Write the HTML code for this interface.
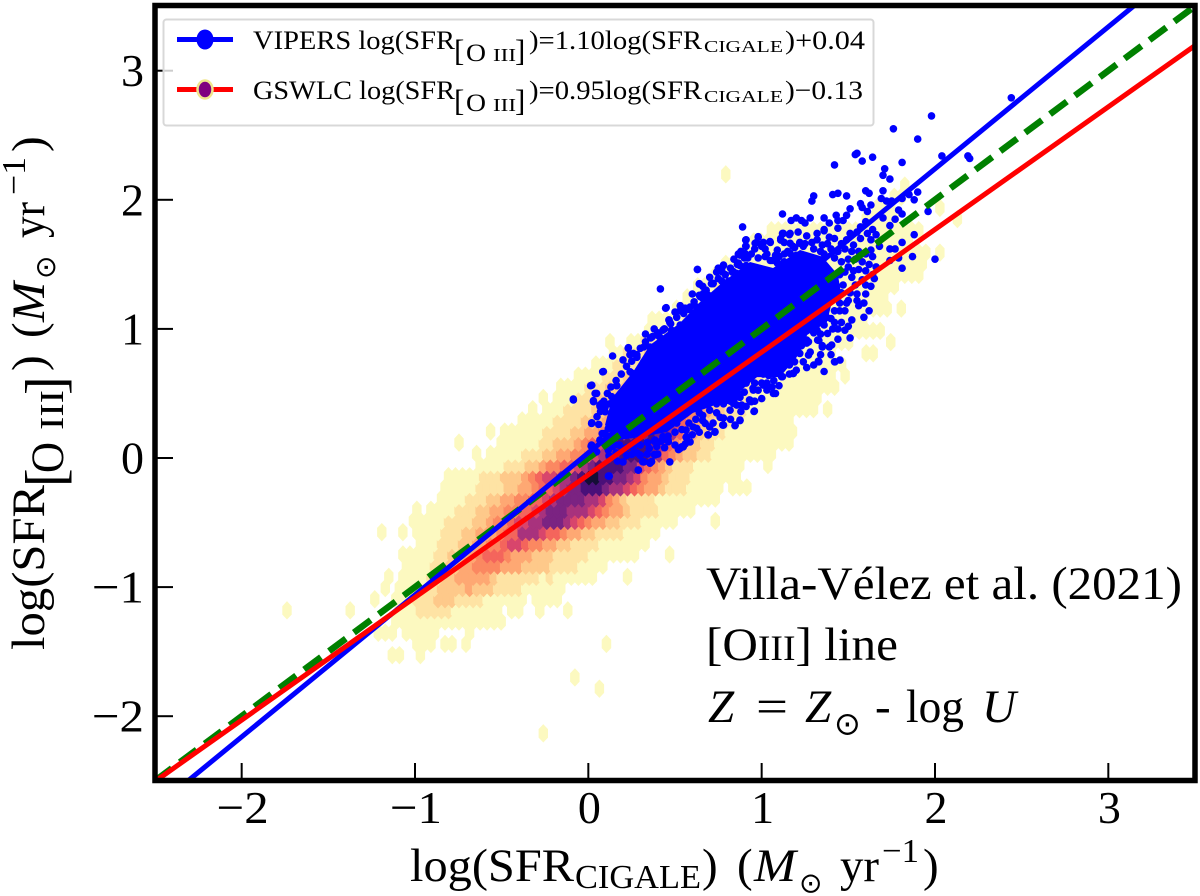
<!DOCTYPE html>
<html><head><meta charset="utf-8"><title>SFR comparison</title>
<style>
html,body{margin:0;padding:0;background:#fff}
svg{display:block}
text{font-family:"Liberation Serif","DejaVu Serif",serif;fill:#000}
.sym{font-family:"DejaVu Sans",sans-serif}
</style></head><body>
<svg id="chart" xmlns="http://www.w3.org/2000/svg" width="1200" height="896" viewBox="0 0 1200 896">
<defs><clipPath id="plot-clip"><rect x="155" y="5.5" width="1040" height="775"/></clipPath></defs>
<g id="plot" clip-path="url(#plot-clip)">
<g id="hexes"></g>
<g id="dots"></g>
<g id="fits"></g>
</g>
<g id="ticks"></g>
<g id="ticklabels" font-size="46"></g>
<g>
<rect x="163.5" y="19.5" width="710" height="106" rx="3" fill="#fff" fill-opacity="0.8" stroke="#d8d8d8" stroke-width="2"/>
<g>
<line x1="177" x2="233" y1="39.5" y2="39.5" stroke="#0000ff" stroke-width="5"/>
<ellipse cx="205" cy="39.5" rx="8.5" ry="10" fill="#0000ff"/>
<text font-size="26.5" y="49" x="253" textLength="202" lengthAdjust="spacingAndGlyphs">VIPERS log(SFR</text>
<text font-size="31" y="61" x="454">[</text>
<text font-size="25" y="61" x="466" textLength="20" lengthAdjust="spacingAndGlyphs">O</text>
<text font-size="18" y="61" x="493" textLength="23" lengthAdjust="spacingAndGlyphs">III</text>
<text font-size="31" y="61" x="515">]</text>
<text font-size="26.5" y="49" x="529" textLength="173" lengthAdjust="spacingAndGlyphs">)=1.10log(SFR</text>
<text font-size="17" y="52" x="704" textLength="79" lengthAdjust="spacingAndGlyphs">CIGALE</text>
<text font-size="26.5" y="49" x="785" textLength="80" lengthAdjust="spacingAndGlyphs">)+0.04</text>
</g>
<g>
<line x1="177" x2="233" y1="89.5" y2="89.5" stroke="#ff0000" stroke-width="5"/>
<ellipse cx="205" cy="89.5" rx="7.5" ry="9" fill="#800080" stroke="#f0e68c" stroke-width="2.5"/>
<text font-size="26.5" y="99" x="253" textLength="202" lengthAdjust="spacingAndGlyphs">GSWLC log(SFR</text>
<text font-size="31" y="111" x="454">[</text>
<text font-size="25" y="111" x="466" textLength="20" lengthAdjust="spacingAndGlyphs">O</text>
<text font-size="18" y="111" x="493" textLength="23" lengthAdjust="spacingAndGlyphs">III</text>
<text font-size="31" y="111" x="515">]</text>
<text font-size="26.5" y="99" x="529" textLength="173" lengthAdjust="spacingAndGlyphs">)=0.95log(SFR</text>
<text font-size="17" y="102" x="704" textLength="79" lengthAdjust="spacingAndGlyphs">CIGALE</text>
<text font-size="26.5" y="99" x="785" textLength="78" lengthAdjust="spacingAndGlyphs">)−0.13</text>
</g>
</g>
<g font-size="47">
<text x="706" y="599" textLength="476" lengthAdjust="spacingAndGlyphs">Villa-Vélez et al. (2021)</text>
<text x="706" y="660" textLength="192" lengthAdjust="spacingAndGlyphs">[O<tspan font-size="36">III</tspan>] line</text>
<text x="708" y="722" font-style="italic">Z</text>
<text x="756" y="722" textLength="32" lengthAdjust="spacingAndGlyphs">=</text>
<text x="805" y="722" font-style="italic">Z</text>
<text class="sym" x="834" y="734.5" font-size="32">⊙</text>
<text x="875" y="722">-</text>
<text x="906" y="722" textLength="58" lengthAdjust="spacingAndGlyphs">log</text>
<text x="982" y="722" font-style="italic">U</text>
</g>
<g font-size="47">
<text x="410" y="881" textLength="164" lengthAdjust="spacingAndGlyphs">log(SFR</text>
<text x="575" y="888" font-size="34" textLength="126" lengthAdjust="spacingAndGlyphs">CIGALE</text>
<text x="702" y="881">)</text>
<text x="737" y="881">(</text>
<text x="754" y="881" font-style="italic" textLength="42" lengthAdjust="spacingAndGlyphs">M</text>
<text class="sym" x="799" y="892.5" font-size="28">⊙</text>
<text x="840" y="881" textLength="39" lengthAdjust="spacingAndGlyphs">yr</text>
<text x="882" y="862" font-size="34" textLength="37" lengthAdjust="spacingAndGlyphs">−1</text>
<text x="923" y="881">)</text>
</g>
<g font-size="47" transform="translate(44,650) rotate(-90)">
<text x="0" y="0" textLength="165" lengthAdjust="spacingAndGlyphs">log(SFR</text>
<text x="163" y="20" font-size="56">[</text>
<text x="177" y="19" font-size="47" textLength="31" lengthAdjust="spacingAndGlyphs">O</text>
<text x="220" y="19" font-size="34" textLength="40" lengthAdjust="spacingAndGlyphs">III</text>
<text x="255" y="20" font-size="56">]</text>
<text x="279" y="0">)</text>
<text x="312" y="0">(</text>
<text x="328" y="0" font-style="italic" textLength="40" lengthAdjust="spacingAndGlyphs">M</text>
<text class="sym" x="371" y="11" font-size="28">⊙</text>
<text x="412" y="0" textLength="36" lengthAdjust="spacingAndGlyphs">yr</text>
<text x="455" y="-19" font-size="34" textLength="38" lengthAdjust="spacingAndGlyphs">−1</text>
<text x="498" y="0">)</text>
</g>
<rect x="155" y="5.5" width="1040" height="775" fill="none" stroke="#000" stroke-width="5.5"/>
</svg>
<script>
const xTicks=[-2,-1,0,1,2,3];
const yTicks=[-2,-1,0,1,2,3];
const xTickLabels=['−2','−1','0','1','2','3'];
const yTickLabels=['−2','−1','0','1','2','3'];
const vipersFit=[1.10,0.04];
const gswlcFit=[0.95,-0.13];
const unityFit=[1,0];
const binWidth=0.0405, binHeight=0.0866, firstBinX=-0.26, firstBinY=-2.133;
const hexRow=[0,4,5,7,7,8,8,8,8,9,9,9,10,11,11,11,11,11,11,12,12,12,13,13,14,14,14,15,16,16,17,18,18,18,19,19,20,20,21,22,23,24,24,25,25,26,26,27,27,28,29,29,29,30,30,31,32,32,33,34,34,35,35,35,36,37,38,38,39,40,41,42,43,43,44,45,46,46,47,47,48,49,50];
const hexStart=[0,8,4,-22,-18,-18,-14,-11,9,-24,-20,-11,-21,-37,-28,-21,-5,-1,3,-24,-21,-1,-23,-21,-22,-20,12,-20,-20,18,-18,-23,-20,-18,-19,24,-18,-16,-15,-14,-14,-9,32,-10,-8,-12,-6,-8,-6,-3,-2,0,40,0,2,2,5,43,7,10,46,9,12,49,15,15,19,51,20,22,24,26,28,56,30,32,46,59,47,56,50,51,26];
const hexLevels=[
[1],[1],[1],
[1,1],[1],
[1,1,1],[1,1],[1],[1],
[1,1,1],[1,1,1,1,1],[1],
[1,1,1,1,1,1,1,1,1,1,1,1,1,1,1,1],
[1],[1],[1,1,1,2,2,2,2,2,1,1,1,1,1,1,1],[1,1],[1],[1],
[1],[1,1,1,2,2,2,3,3,3,2,2,2,2,1,1,1,1,1,1],[1,1,1,1],
[1],[1,1,1,1,2,2,3,3,3,3,4,3,3,3,2,2,2,2,1,1,1,1,1,1],
[1],[1,1,1,1,2,2,3,3,4,4,4,4,4,3,2,2,2,2,2,2,1,2,1,1,1,1,1,1],[1],
[1,1,1,1,2,2,3,3,4,4,5,5,5,5,4,4,4,3,3,3,3,2,2,2,2,1,1,1,1],
[1,1,1,1,1,2,2,3,3,4,4,5,6,6,6,5,4,4,4,3,3,3,2,2,2,2,2,1,1,1,1,1,1,1],[1],
[1,1,1,2,2,2,3,3,4,4,5,5,6,7,7,6,5,5,4,4,3,3,2,2,2,2,1,1,1,1,1,1,1],
[1],[1],[1,1,1,1,2,2,2,3,3,4,4,4,5,6,6,8,8,8,7,6,6,5,4,4,3,3,2,2,2,2,1,1,1,1,1],
[1,1,1,1,1,2,2,2,2,3,3,4,5,5,6,7,7,8,8,9,9,9,8,7,6,5,4,4,3,3,2,2,2,1,1,1,1,1],[1],
[1],[1,1,1,1,2,2,2,3,3,4,4,5,5,6,6,7,8,9,9,9,8,8,8,7,6,5,4,4,3,2,2,2,2,1,1,1,1,1],
[1,1,1,1,2,2,2,3,3,4,4,5,5,6,6,7,8,9,9,9,9,8,8,7,5,4,3,2,2,2,2,1,1,1,1,1,1,1,1,1],
[1,1,1,1,1,2,2,2,2,3,3,4,4,5,6,6,7,8,9,9,10,10,10,9,8,8,7,6,5,4,4,3,2,2,2,1,1,1,1,1,0,1,1,1],
[1,1,1,1,1,2,2,2,3,3,3,4,5,6,7,7,8,8,9,10,11,11,10,10,9,9,8,7,5,4,4,3,2,2,2,1,1,1,1,1,1,1],
[1,1,1,1,2,2,2,3,3,4,5,5,6,6,7,8,9,10,10,10,10,9,9,7,6,5,4,3,2,2,2,1,1,1,1,1,1,1],[1],
[1],[1,1,1,1,1,2,2,2,3,3,4,4,5,5,6,7,8,9,9,10,10,10,10,9,8,6,5,4,3,3,2,2,1,1,1,1,1,1,1,1,1],
[1],[1,1,1,1,1,1,2,2,3,3,3,4,5,6,7,8,9,10,10,10,10,10,9,8,6,5,4,3,3,2,2,1,1,1,1,1,1,1,1,1,1,1],
[1],[1,1,1,1,1,1,2,2,2,2,3,3,4,4,5,6,7,8,9,9,9,10,9,9,8,6,5,4,3,3,2,2,1,1,1,1,1,1,1,1,1,1],
[1,1,1,1,1,2,2,2,2,3,3,3,4,4,5,6,7,8,8,9,9,8,7,6,5,4,3,3,2,2,2,1,1,1,1,1,1,1,1],
[1],[1,1,1,2,2,2,2,3,3,3,4,4,5,6,6,7,7,8,8,7,6,5,4,4,3,3,2,2,2,1,1,1,1,1,1,1,1,1,1],[1],
[1],[1,1,1,2,2,2,3,3,3,4,4,4,5,6,6,7,6,6,5,5,4,3,3,3,2,2,2,2,1,1,1,1,1,1,1,1,1,1],
[1,1,1,1,2,2,2,3,3,3,3,4,4,5,5,6,6,6,5,5,4,4,3,3,3,2,2,2,2,1,1,1,1,1,1,1,1,1,1,1],
[1,1,1,1,2,2,2,3,3,3,4,4,4,4,5,5,5,5,4,4,3,3,3,2,2,2,2,1,1,1,1,1,1,1,1,1,1],[1],
[1,1,1,2,2,2,2,3,3,3,4,4,4,4,4,4,4,3,3,3,2,2,2,2,1,1,1,1,1,1,1,1,1,1,1,1],
[1,1,2,2,2,3,3,3,3,3,4,4,4,3,3,3,3,2,2,2,2,1,1,1,1,1,1,1,1,1,1,1],[1,1],
[1],[1,1,2,2,2,2,3,3,3,3,3,3,3,2,2,2,2,2,1,1,1,1,1,1,1,1,1,1,1,1,1,1],[1],
[1,1,1,2,2,2,2,2,2,2,2,2,2,2,1,1,1,1,1,1,1,1,1,1,1,1,1,1,1,1,1,1,1,1],
[1,1,1,1,1,2,2,2,2,2,2,2,2,2,1,1,1,1,1,1,1,1,1,1,1,1,1,1,1,1,1],
[1,1,1,1,2,2,2,2,2,2,1,1,1,1,1,1,1,1,1,1,1,1,1,1,1,1,1,1,1,1,1],[1],
[1,1,1,2,2,2,2,2,1,1,1,1,1,1,1,1,1,1,1,1,1,1,1,1,1,1,1,1,1],
[1,1,1,2,2,2,2,1,1,1,1,1,1,1,1,1,1,1,1,1,1,1,1,1,1,1,1,1,1],
[1,1,1,1,1,1,1,1,1,1,1,1,1,1,1,1,1,1,1,1,1,1,1,1,1,1,1,1,1,1],
[1,1,1,1,1,1,1,1,1,1,1,1,1,1,1,1,1,1,1,1,1,1,1,1,1,1,1,1,1],
[1,1,1,1,1,1,1,1,1,1,1,1,1,1,1,1,1,1,1,1,1,1,1,1,1,1,1],[1],
[1,1,1,1,1,1,1,1,1,1,1,1,1,1,1,1,1,1,1,1,1,1,1],
[1,1,1,1,1,1,1,1,1,1,1,1,1,1,1,1,1,1,1,1,1,1],
[1,1,1,1,1],[1],
[1,1,1],[1],
[1,1],[1],[1]
];
const vipersCore=[[0.096,0.256],[0.137,0.465],[0.258,0.666],[0.356,0.875],[0.529,1.046],[0.644,1.208],[0.777,1.363],[0.933,1.518],[1.066,1.472],[1.221,1.611],[1.35,1.56],[1.44,1.42],[1.46,1.26],[1.40,1.18],[1.377,1.053],[1.262,0.953],[1.221,0.813],[1.106,0.627],[0.973,0.627],[0.834,0.472],[0.702,0.395],[0.604,0.349],[0.453,0.201],[0.298,0.163],[0.171,0.139]];
const vipersPoints=[[2.44,2.79],[1.98,2.65],[1.76,2.55],[1.90,2.47],[1.55,2.36],[1.54,2.35],[1.64,2.33],[1.58,2.30],[1.42,2.27],[1.81,2.29],[2.04,2.34],[2.19,2.34],[2.20,2.32],[1.71,2.24],[1.70,2.19],[1.74,2.16],[1.70,2.07],[1.60,2.07],[1.62,2.05],[1.41,2.04],[1.44,2.05],[1.49,2.03],[1.30,2.03],[1.29,1.99],[1.69,2.01],[1.72,1.99],[1.75,1.99],[1.81,2.01],[1.85,2.04],[1.90,2.06],[1.88,2.0],[1.57,1.97],[1.63,1.96],[1.58,1.94],[1.51,1.93],[1.61,1.91],[1.96,1.91],[1.79,1.92],[1.81,1.89],[1.70,1.86],[1.77,1.85],[1.12,1.89],[1.17,1.84],[1.2,1.86],[1.23,1.84],[1.28,1.86],[1.25,1.82],[1.36,1.86],[1.39,1.82],[1.36,1.77],[1.43,1.88],[1.44,1.84],[1.49,1.88],[1.47,1.84],[1.44,1.78],[1.60,1.83],[1.57,1.79],[1.64,1.77],[1.61,1.74],[1.74,1.80],[0.89,1.79],[0.91,1.69],[0.91,1.64],[0.98,1.71],[0.97,1.67],[1.01,1.67],[1.05,1.67],[1.0,1.64],[1.12,1.74],[1.16,1.73],[1.21,1.75],[1.11,1.70],[1.13,1.67],[1.22,1.67],[1.18,1.64],[1.24,1.64],[1.32,1.74],[1.36,1.76],[1.39,1.71],[1.29,1.67],[1.35,1.65],[1.51,1.74],[1.55,1.75],[1.49,1.69],[1.57,1.70],[1.53,1.65],[1.63,1.69],[1.66,1.73],[1.63,1.61],[1.88,1.73],[1.81,1.67],[1.74,1.62],[1.77,1.62],[1.87,1.56],[2.0,1.54],[1.74,1.53],[1.79,1.55],[1.81,1.47],[0.885,1.58],[0.865,1.58],[0.92,1.55],[0.91,1.49],[1.03,1.58],[1.08,1.57],[1.05,1.53],[1.09,1.51],[1.13,1.58],[1.20,1.57],[1.13,1.52],[0.865,1.51],[0.875,1.49],[0.83,1.44],[0.78,1.49],[0.75,1.47],[0.77,1.45],[0.63,1.46],[0.64,1.35],[0.72,1.35],[0.77,1.37],[0.81,1.37],[0.856,1.43],[0.416,1.31],[0.446,1.16],[0.53,1.14],[0.558,1.16],[0.587,1.17],[0.625,1.17],[0.658,1.24],[0.693,1.26],[0.465,1.07],[0.475,1.04],[0.43,0.99],[0.48,0.99],[0.53,1.03],[0.36,0.93],[0.41,0.94],[0.42,0.91],[0.32,0.86],[0.23,0.85],[0.26,0.81],[0.28,0.78],[0.14,0.79],[0.32,0.745],[0.355,0.86],[0.087,0.67],[0.254,0.655],[0.25,0.60],[0.164,0.56],[0.135,0.475],[0.125,0.42],[0.154,0.42],[0.0675,0.40],[0.096,0.36],[0.23,0.46],[0.20,0.37],[1.65,1.39],[1.60,1.27],[1.63,1.33],[1.59,1.20],[1.56,1.18],[1.62,1.14],[1.59,1.09],[1.52,1.07],[1.48,0.99],[1.51,0.93],[1.44,1.0],[1.41,1.0],[1.38,0.965],[1.33,0.91],[1.35,0.86],[1.39,0.86],[1.26,0.89],[1.42,0.745],[1.33,0.745],[1.36,0.67],[1.24,0.745],[1.19,0.745],[1.18,0.655],[1.20,0.68],[1.115,0.63],[1.07,0.60],[1.08,0.50],[0.98,0.525],[0.95,0.54],[0.956,0.36],[0.875,0.29],[0.846,0.25],[0.78,0.255],[0.73,0.20],[0.69,0.18],[0.587,0.125],[0.567,0.165],[0.54,0.085],[0.52,0.065],[0.46,0.14],[0.47,-0.03],[0.356,-0.04],[0.30,0.02],[0.32,-0.03],[1.68,1.64],[1.53,1.45],[1.60,1.45],[1.55,1.27],[1.49,1.20],[1.45,1.14],[1.375,1.09],[1.30,1.04],[1.32,0.99],[1.22,0.89],[1.14,0.81],[1.22,0.81],[1.07,0.76],[1.01,0.65],[1.03,0.58],[0.91,0.58],[0.875,0.47],[0.84,0.45],[0.93,0.45],[0.74,0.35],[0.66,0.29],[0.64,0.35],[0.605,0.24],[0.51,0.27],[0.395,0.09],[0.43,0.165],[0.26,0.11],[0.289,-0.094],[0.356,-0.037],[0.318,-0.029],[0.30,0.023],[0.381,0.028],[0.25,0.028],[0.352,0.074],[0.116,-0.14],[0.168,-0.024],[0.12,0.017],[0.039,0.043],[0.016,0.092],[0.068,0.139],[0.02,0.273],[0.122,0.237],[0.097,0.191],[0.539,0.087],[0.52,0.069],[0.564,0.16],[0.693,0.178],[0.731,0.204],[0.775,0.255],[0.847,0.255],[0.875,0.294],[0.958,0.364],[0.674,0.268],[0.625,0.229],[0.564,0.216],[0.462,0.126],[0.76,0.315],[0.837,0.423],[0.885,0.41],[0.94,0.436],[0.077,0.423],[0.03,0.436],[0.097,0.359],[0.164,0.333],[-0.086,0.449],[-0.087,0.457],[0.013,0.56],[0.163,0.56],[0.048,0.50],[0.029,0.444],[0.067,0.41],[0.019,0.268],[0.144,0.449],[0.163,0.346],[0.115,0.229],[0.067,0.139],[0.019,0.10],[0.048,0.048],[0.154,0.10],[0.115,0.061],[0.298,0.023],[0.313,-0.029],[0.384,0.023],[0.365,-0.029],[0.288,-0.094],[0.121,-0.14],[0.529,0.074],[0.548,0.087],[0.452,0.139],[0.384,0.139],[0.449,1.164],[0.533,1.146],[0.562,1.159],[0.629,1.461],[0.641,1.347],[0.466,1.068],[0.437,0.999],[0.408,0.944],[0.231,0.854],[0.083,0.668],[0.02,0.564],[0.039,0.50],[0.097,0.396],[0.241,0.668],[0.347,0.797],[0.414,0.874],[0.49,0.965],[0.645,1.25],[0.664,1.275],[0.72,1.353],[0.75,1.469],[0.78,1.495],[0.77,1.443],[0.837,1.443],[0.875,1.572],[0.904,1.585],[0.866,1.508],[0.908,1.688],[0.908,1.642],[0.98,1.714],[0.962,1.663],[1.048,1.676],[1.125,1.74],[1.164,1.74],[1.11,1.688],[1.164,1.663],[1.22,1.663],[1.087,1.52],[1.164,1.585],[1.452,0.758],[1.423,0.745],[1.327,0.75],[1.404,0.875],[1.35,0.87],[1.323,0.913],[1.26,0.913],[1.27,0.797],[1.183,0.655],[1.12,0.63],[1.068,0.50],[1.03,0.526],[0.952,0.526],[1.01,0.565],[0.933,0.448],[0.856,0.41],[0.837,0.487],[0.80,0.448],[0.72,0.448],[0.818,0.37],[1.154,0.758],[1.135,0.732],
[0.11,0.50],[0.13,0.55],[0.16,0.60],[0.19,0.65],[0.22,0.71],[0.25,0.75],[0.28,0.80],[0.30,0.85],[0.33,0.90],[0.37,0.94],[0.40,0.97],[0.44,1.00],[0.47,1.05],[0.51,1.09],[0.55,1.12],[0.58,1.15],[0.61,1.21],[0.64,1.26],[0.68,1.30],[0.71,1.35],[0.75,1.39],[0.79,1.42],[0.82,1.47],[0.86,1.50],[0.90,1.55],[0.94,1.58],[0.98,1.55],[1.02,1.56],[1.06,1.53],[1.10,1.56],[1.15,1.60],[1.19,1.63],[1.25,1.66],[1.30,1.62],[1.34,1.60],
[0.20,0.76],[0.24,0.80],[0.33,0.96],[0.38,1.00],[0.50,1.13],[0.53,1.18],[0.60,1.27],[0.66,1.33],[0.70,1.40],[0.74,1.44],[0.84,1.54],[0.88,1.60],[0.96,1.62],[1.02,1.62],[1.09,1.61],[1.26,1.72],[1.32,1.69],[1.42,1.70],[1.46,1.66],[1.38,1.66],
[1.36,1.58],[1.40,1.62],[1.44,1.60],[1.48,1.62],[1.52,1.60],[1.56,1.60],[1.60,1.58],[1.64,1.56],[1.58,1.52],[1.54,1.54],[1.50,1.54],[1.46,1.52],[1.42,1.55],[1.62,1.50],[1.66,1.48],[1.56,1.46],[1.50,1.48],[1.64,1.42],[1.58,1.38],[1.52,1.40],[1.48,1.44],[1.45,1.42],[1.54,1.34],[1.60,1.34],[1.47,1.34],[1.51,1.28],[1.46,1.28],[1.55,1.22],[1.50,1.22],[1.45,1.20],[1.42,1.14],[1.48,1.14],[1.40,1.08],[1.36,1.03],[1.42,1.05],[1.30,0.97],[1.34,0.96],[1.27,0.90],[1.23,0.87],[1.18,0.79],[1.16,0.72],[1.12,0.70],[1.08,0.66],[1.04,0.64],[1.00,0.58],[0.96,0.58],[0.90,0.51],[0.86,0.51],[0.82,0.44],[0.78,0.42],[0.74,0.42],[0.70,0.37],[0.66,0.33],[0.62,0.30],[0.58,0.27],[0.54,0.22],[0.50,0.20],[0.46,0.17],[0.42,0.13],[0.38,0.13],[0.34,0.12],[0.30,0.10],[0.26,0.08],[0.22,0.08],[0.18,0.10],[0.14,0.09],[0.10,0.14],[0.08,0.19],[0.06,0.26],[0.05,0.32],[0.07,0.36],[0.09,0.44],
[1.46,1.05],[1.50,1.02],[1.44,0.92],[1.40,0.80],[1.34,0.80],[1.30,0.72],[1.28,0.82],[1.26,0.70],[1.16,0.65],[1.10,0.56],[1.06,0.55],[1.00,0.46],[0.96,0.44],[0.91,0.40],[0.88,0.36],[0.82,0.30],[0.78,0.31],[0.72,0.27],[0.70,0.24],[0.64,0.20],[0.60,0.18],[0.56,0.11],[0.50,0.10],[0.44,0.08],[0.40,0.03],[0.34,0.03],[0.28,0.04],[0.22,0.02],[0.20,-0.03],[0.16,0.04]];
const levelColors=['none','#fcf9c0','#fee3a4','#fec98a','#fea873','#fb8861','#f4655c','#d8456c','#a8327d','#7b2382','#4a1079','#140e36'];

const NS='http://www.w3.org/2000/svg';
function sx(v){return 588.33+173.33*v;}
function sy(v){return 458-129.1*v;}
function make(tag,attrs,parent){const e=document.createElementNS(NS,tag);for(const k in attrs)e.setAttribute(k,attrs[k]);parent.appendChild(e);return e;}

const hexG=document.getElementById('hexes');
hexLevels.forEach(function(levels,s){
  const row=hexRow[s];
  levels.forEach(function(level,i){
    if(!level)return;
    const cx=sx(firstBinX+binWidth*(hexStart[s]+i+(row%2)/2));
    const cy=sy(firstBinY+binHeight*row);
    const hw=sx(binWidth/2)-sx(0), hh=sy(0)-sy(binHeight*2/3), q=hh/2;
    const pts=[[cx,cy-hh],[cx+hw,cy-q],[cx+hw,cy+q],[cx,cy+hh],[cx-hw,cy+q],[cx-hw,cy-q]].map(function(p){return p[0].toFixed(1)+','+p[1].toFixed(1);}).join(' ');
    const el=make('polygon',{points:pts,fill:levelColors[level],stroke:levelColors[level],'stroke-width':2.4},hexG);
    
    
  });
});

const dotG=document.getElementById('dots');
const core=make('polygon',{points:vipersCore.map(function(p){return sx(p[0]).toFixed(1)+','+sy(p[1]).toFixed(1);}).join(' '),fill:'#0000ff'},dotG);


vipersPoints.forEach(function(p){
  const c=make('circle',{cx:sx(p[0]).toFixed(1),cy:sy(p[1]).toFixed(1),r:3.8,fill:'#0000ff'},dotG);
  
  
});

const fitG=document.getElementById('fits');
function fitLine(fit,style){return make('line',Object.assign({x1:sx(-2.5),x2:sx(3.5),y1:sy(fit[0]*-2.5+fit[1]),y2:sy(fit[0]*3.5+fit[1])},style),fitG);}
const lineUnity=fitLine(unityFit,{stroke:'#008000','stroke-width':6.5,'stroke-dasharray':'21 10'});


const lineVipers=fitLine(vipersFit,{stroke:'#0000ff','stroke-width':5});


const lineGswlc=fitLine(gswlcFit,{stroke:'#ff0000','stroke-width':5});



const tickG=document.getElementById('ticks');
const labelG=document.getElementById('ticklabels');
function fitNegative(el,label){if(label.length>1){el.setAttribute('textLength',52);el.setAttribute('lengthAdjust','spacingAndGlyphs');}}
xTicks.forEach(function(v,i){
  const t1=make('line',{x1:sx(v),x2:sx(v),y1:778,y2:763,stroke:'#000','stroke-width':2},tickG);
  
  
  const lab=make('text',{x:sx(v)+1,y:823,'text-anchor':'middle'},labelG);
  lab.textContent=xTickLabels[i];
  fitNegative(lab,xTickLabels[i]);
  
  
});
yTicks.forEach(function(v,i){
  const t2=make('line',{x1:157,x2:173,y1:sy(v),y2:sy(v),stroke:'#000','stroke-width':2},tickG);
  
  
  const lab=make('text',{x:144,y:sy(v)+15.5,'text-anchor':'end'},labelG);
  lab.textContent=yTickLabels[i];
  fitNegative(lab,yTickLabels[i]);
  
  
});
</script>
</body></html>
